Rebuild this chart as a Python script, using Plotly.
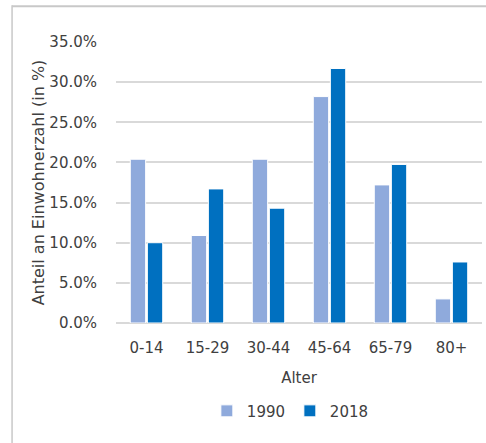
import plotly.graph_objects as go

categories = ["0-14", "15-29", "30-44", "45-64", "65-79", "80+"]
values_1990 = [20.4, 10.9, 20.4, 28.2, 17.2, 3.0]
values_2018 = [10.0, 16.7, 14.3, 31.7, 19.75, 7.6]
series_names = ["1990", "2018"]
y_ticks = [0, 5, 10, 15, 20, 25, 30, 35]
y_tick_labels = ["0.0%", "5.0%", "10.0%", "15.0%", "20.0%", "25.0%", "30.0%", "35.0%"]

text_color = "#404040"
font_family = "DejaVu Sans, Arial, sans-serif"

fig = go.Figure()
fig.add_trace(go.Bar(x=categories, y=values_1990, name=series_names[0],
                     marker=dict(color="#8FAADC", line=dict(color="white", width=1))))
fig.add_trace(go.Bar(x=categories, y=values_2018, name=series_names[1],
                     marker=dict(color="#0070C0", line=dict(color="white", width=1))))

fig.update_layout(
    template="none",
    width=486, height=443,
    margin=dict(l=116, r=4, t=42, b=120),
    paper_bgcolor="white", plot_bgcolor="white",
    font=dict(family=font_family, size=15, color=text_color),
    barmode="group", bargap=0.44, bargroupgap=0.1,
    showlegend=True,
    legend=dict(orientation="h", x=0.475, xanchor="center",
                yref="container", y=0.072, yanchor="middle",
                font=dict(size=15, color=text_color), itemwidth=30,
                entrywidth=38, entrywidthmode="pixels",
                traceorder="normal", bgcolor="rgba(0,0,0,0)"),
    xaxis=dict(automargin=False, showgrid=False, showline=False, ticks="",
               ticklabelstandoff=14,
               title=dict(text="Alter", standoff=16, font=dict(size=15, color=text_color))),
    yaxis=dict(automargin=False, range=[0, 35], tickvals=y_ticks, ticktext=y_tick_labels,
               showgrid=True, gridcolor="#d9d9d9", gridwidth=1.5,
               zeroline=True, zerolinecolor="#d9d9d9", zerolinewidth=1.5,
               showline=False, ticks="", ticklabelstandoff=18,
               title=dict(text="Anteil an Einwohnerzahl (in %)", standoff=0,
                          font=dict(size=16, color=text_color))),
    shapes=[
        dict(type="rect", xref="paper", yref="paper", x0=-0.284, x1=1.05,
             y0=1.124, y1=1.131, fillcolor="#c8c8c8", line=dict(width=0), layer="above"),
        dict(type="line", xref="paper", yref="paper", x0=-0.284, x1=-0.284, y0=-0.5, y1=1.131,
             line=dict(color="#c8c8c8", width=1.5), layer="below"),
    ],
)

fig.write_html("out.html",
               config={"displayModeBar": False},
               post_script="document.body.style.margin='0';document.body.style.overflow='hidden';")
